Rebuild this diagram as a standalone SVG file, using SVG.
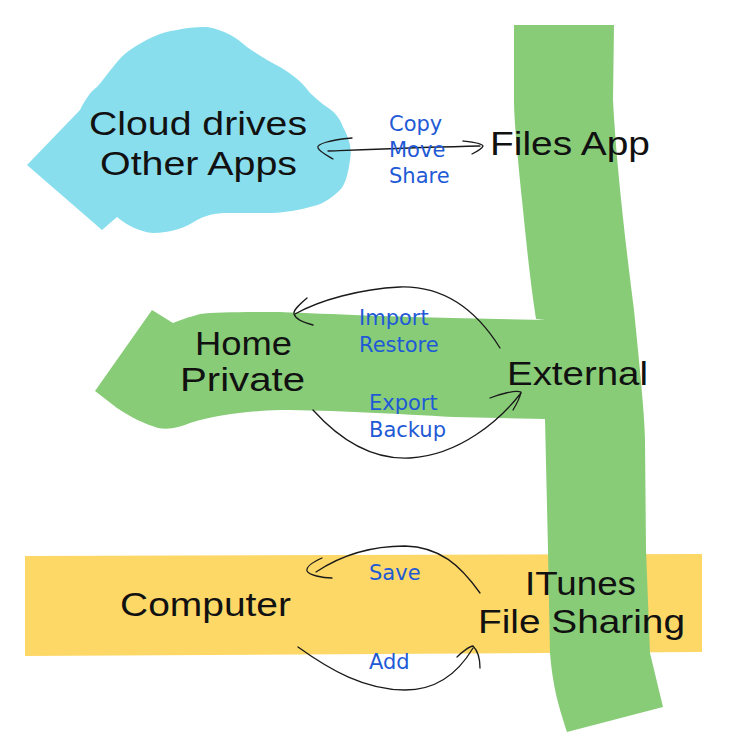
<svg xmlns="http://www.w3.org/2000/svg" width="734" height="746" viewBox="0 0 734 746">
<style>
.big{font-family:"Liberation Sans","DejaVu Sans",sans-serif;font-size:34px;fill:#111}
.lbl{font-family:"DejaVu Sans","Noto Sans",sans-serif;font-size:21px;fill:#1f5ad6}
.con{fill:none;stroke:#1a1a1a;stroke-width:1.3;stroke-linecap:round;stroke-linejoin:round}
</style>
<rect width="734" height="746" fill="#ffffff"/>
<g id="shape-computer-bar">
<path d="M25,556 L702,554 L702,652 L25,656 Z" fill="#fdd867"/>
</g>
<g id="shape-green-arm">
<path d="M95,391 L152,310 L173,323 C180,320 186,318 200,314 C215,312 245,312 280,312 C330,314 400,317 453,318 L545,320 L545,419 L453,417 C400,414 330,410 280,410 C250,411 220,414 190,423 C180,427 170,430 158,428 C145,424 130,417 117,408 Z" fill="#88cc78"/>
</g>
<g id="shape-green-strip">
<path d="M514,25 L614,25 L613,100 C616,160 625,240 634,310 C640,370 645,420 645,440 L646,550 L650,653 L663,707 L567,732 C560,710 553,690 550,653 L548,550 L545,419 L545,320 L536,319 C530,280 526,240 522,200 C518,160 514,120 514,100 Z" fill="#88cc78"/>
</g>
<g id="node-cloud">
<path d="M27,165 L80,110 C85,100 90,92 97,87 C110,72 118,58 130,50 C145,40 160,32 177,30 C190,27 200,27 207,27 C225,30 237,38 247,47 C260,56 270,62 280,67 C292,74 302,82 310,93 C318,100 322,104 327,107 C336,113 340,119 343,127 C350,140 352,150 350,160 C348,175 345,185 340,190 C330,200 320,205 310,207 C295,211 280,213 267,213 C250,213 235,213 223,213 C210,214 203,217 197,220 C185,228 170,233 153,233 C140,232 128,226 117,217 L102,230 Z" fill="#89deee"/>
<text class="big" x="89" y="135" textLength="218" lengthAdjust="spacingAndGlyphs">Cloud drives</text>
<text class="big" x="100" y="175" textLength="197" lengthAdjust="spacingAndGlyphs">Other Apps</text>
</g>
<g id="node-files-app">
<text class="big" x="490" y="155" textLength="160" lengthAdjust="spacingAndGlyphs">Files App</text>
</g>
<g id="node-home-private">
<text class="big" x="195" y="355" textLength="97" lengthAdjust="spacingAndGlyphs">Home</text>
<text class="big" x="180" y="391" textLength="125" lengthAdjust="spacingAndGlyphs">Private</text>
</g>
<g id="node-external">
<text class="big" x="507" y="385" textLength="141" lengthAdjust="spacingAndGlyphs">External</text>
</g>
<g id="node-computer">
<text class="big" x="120" y="616" textLength="171" lengthAdjust="spacingAndGlyphs">Computer</text>
</g>
<g id="node-itunes">
<text class="big" x="525" y="595" textLength="111" lengthAdjust="spacingAndGlyphs">ITunes</text>
<text class="big" x="478" y="633" textLength="207" lengthAdjust="spacingAndGlyphs">File Sharing</text>
</g>
<g id="connectors">
<path class="con" d="M328,151 C380,149 430,147 480,146"/>
<path class="con" d="M352,138 C330,140 316,144 318,148 C320,152 328,156 333,159"/>
<path class="con" d="M463,141 C472,142 482,143 483,146 C482,149 476,152 472,154"/>
<path class="con" d="M500,348 C470,300 435,286 400,287 C360,289 320,300 295,314"/>
<path class="con" d="M307,298 C300,304 293,310 294,314 C296,320 305,323 313,325"/>
<path class="con" d="M313,410 C340,440 372,460 410,458 C460,455 500,420 521,393"/>
<path class="con" d="M490,398 C500,394 515,390 521,392 C520,398 516,405 513,410"/>
<path class="con" d="M480,593 C460,565 440,547 405,546 C370,546 340,556 316,572"/>
<path class="con" d="M322,558 C313,562 306,567 307,571 C309,575 322,578 332,578"/>
<path class="con" d="M298,647 C330,670 365,690 405,690 C440,690 460,670 473,648"/>
<path class="con" d="M457,657 C462,652 470,646 473,646 C477,650 480,658 480,668"/>
<text class="lbl" x="389" y="131">Copy</text>
<text class="lbl" x="389" y="157">Move</text>
<text class="lbl" x="389" y="183">Share</text>
<text class="lbl" x="359" y="325">Import</text>
<text class="lbl" x="359" y="352">Restore</text>
<text class="lbl" x="369" y="410">Export</text>
<text class="lbl" x="369" y="437">Backup</text>
<text class="lbl" x="369" y="580">Save</text>
<text class="lbl" x="369" y="669">Add</text>
</g>
</svg>
